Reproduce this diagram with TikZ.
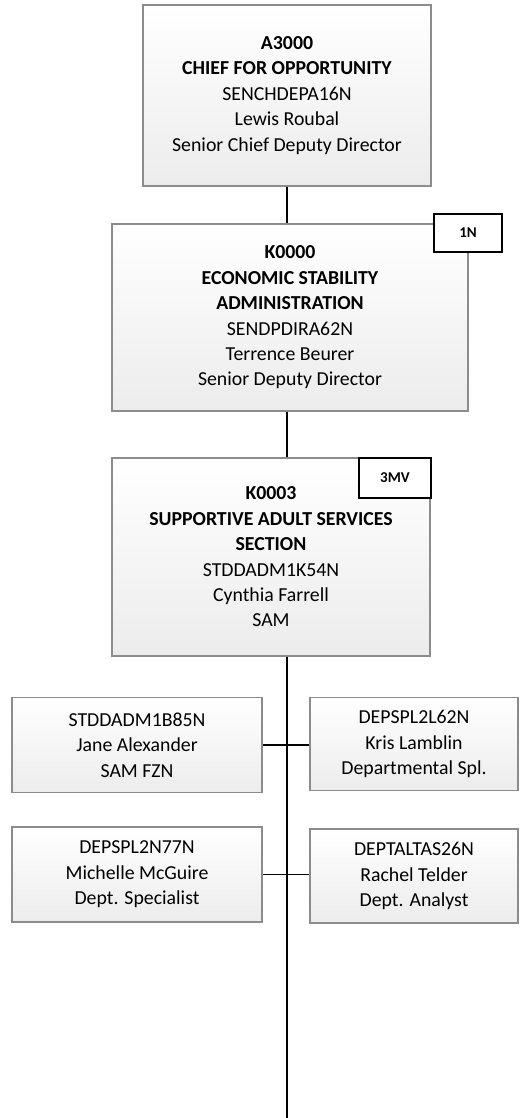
\documentclass[tikz,border=0pt]{standalone}
\usepackage{fontspec}
\setmainfont{Carlito}
\usepackage{tikz}
\usetikzlibrary{positioning, calc}
\definecolor{boxedge}{HTML}{8C8C8C}
\definecolor{boxfoot}{HTML}{ECECEC}

\begin{document}
\begin{tikzpicture}[
    x=1pt, y=-1pt,
    unit/.style={rectangle, draw=boxedge, line width=1.2pt, top color=white,
                 bottom color=boxfoot, minimum width=#1, align=center, inner sep=0pt,
                 font=\fontsize{19.8}{25.4}\selectfont},
    unit/.default=250pt,
    badge/.style={rectangle, draw=black, line width=1.5pt, fill=white,
                  minimum width=#1, minimum height=38pt, inner sep=0pt,
                  font=\fontsize{15}{17}\selectfont\bfseries},
    badge/.default=68pt,
    link/.style={line width=1.5pt, black}
]
\useasboundingbox (0,0) rectangle (520,1118);

% Boxes
\node[unit=288pt, minimum height=181pt] at (287,95.5) (chief)
  {\textbf{A3000}\\\textbf{CHIEF FOR OPPORTUNITY}\\SENCHDEPA16N\\Lewis Roubal\\Senior Chief Deputy Director};
\node[unit=356pt, minimum height=187pt] at (290,317.5) (esa)
  {\textbf{K0000}\\\textbf{ECONOMIC STABILITY}\\\textbf{ADMINISTRATION}\\SENDPDIRA62N\\Terrence Beurer\\Senior Deputy Director};
\node[badge] at (468,233) (esatag) {1N};
\node[unit=318pt, minimum height=198pt] at (271,557) (sas)
  {\textbf{K0003}\\\textbf{SUPPORTIVE ADULT SERVICES}\\\textbf{SECTION}\\STDDADM1K54N\\Cynthia Farrell\\SAM};
\node[badge=72pt, minimum height=40pt] at (395,478) (sastag) {3MV};

\node[unit=250pt, minimum height=95pt] at (137,745) (alexander) {STDDADM1B85N\\Jane Alexander\\SAM FZN};
\node[unit=208pt, minimum height=93pt] at (414,744) (lamblin) {DEPSPL2L62N\\Kris Lamblin\\Departmental Spl.};
\node[unit=250pt, minimum height=95pt] at (137,874.5) (mcguire) {DEPSPL2N77N\\Michelle McGuire\\Dept. Specialist};
\node[unit=208pt, minimum height=94pt] at (414,876) (telder) {DEPTALTAS26N\\Rachel Telder\\Dept. Analyst};

\coordinate (trunkend) at (287,1118);

% Connectors
\draw[link] (chief.south) -- (chief.south |- esa.north);
\draw[link] (esa.south -| chief.south) -- (sas.north -| chief.south);
\draw[link] (sas.south -| chief.south) -- (trunkend);
\draw[link] (alexander.east) -- (lamblin.west |- alexander.east);
\draw[link] (mcguire.east) -- (telder.west |- mcguire.east);

\end{tikzpicture}
\end{document}
